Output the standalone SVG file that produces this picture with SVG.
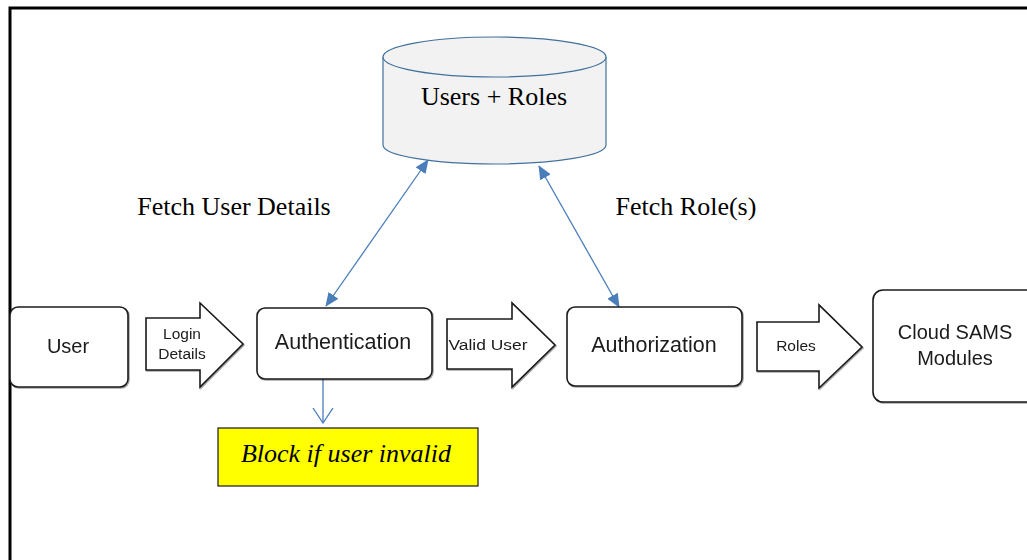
<svg xmlns="http://www.w3.org/2000/svg" width="1027" height="560" viewBox="0 0 1027 560">
<style>
.box{fill:#fff;stroke:#1a1a1a;stroke-width:1.6}
.barrow{fill:#fff;stroke:#1a1a1a;stroke-width:1.6;stroke-linejoin:miter}
.sans{font-family:"Liberation Sans",Arial,sans-serif;fill:#1a1a1a;text-anchor:middle}
.serif{font-family:"Liberation Serif","Times New Roman",serif;fill:#000;font-size:26px}
.conn{stroke:#4a7ebb;stroke-width:1.3;fill:none}
</style>
<defs>
<marker id="tri" viewBox="0 0 14 12" refX="13" refY="6" markerWidth="14" markerHeight="12" markerUnits="userSpaceOnUse" orient="auto-start-reverse">
<path d="M0,0 L14,6 L0,12 Z" fill="#4a7ebb"/>
</marker>
<marker id="vee" viewBox="0 0 16 22" refX="15" refY="11" markerWidth="16" markerHeight="22" markerUnits="userSpaceOnUse" orient="auto">
<path d="M0,1 L15,11 L0,21" fill="none" stroke="#4a7ebb" stroke-width="1.3"/>
</marker>
<filter id="sh" x="-10%" y="-10%" width="120%" height="120%">
<feDropShadow dx="1" dy="1" stdDeviation="0.6" flood-color="#000" flood-opacity="0.35"/>
</filter>
</defs>
<rect width="1027" height="560" fill="#fff"/>
<path d="M10,562 L10,8 L1030,8" fill="none" stroke="#000" stroke-width="3"/>

<g id="connectors">
<line class="conn" x1="326" y1="306" x2="428" y2="160" marker-start="url(#tri)" marker-end="url(#tri)"/>
<line class="conn" x1="619" y1="307" x2="539" y2="166" marker-start="url(#tri)" marker-end="url(#tri)"/>
<line class="conn" x1="323" y1="379" x2="323" y2="423" marker-end="url(#vee)"/>
</g>

<g id="db">
<path d="M383,57 L383,145 A111.5,19 0 0 0 606,145 L606,57" fill="#f2f2f2" stroke="#41719c" stroke-width="1.2"/>
<ellipse cx="494.5" cy="57" rx="111.5" ry="20" fill="#f2f2f2" stroke="#41719c" stroke-width="1.2"/>
<text class="serif" x="494" y="105" text-anchor="middle">Users + Roles</text>
</g>

<g id="label-fetch-user">
<text class="serif" x="234" y="215" text-anchor="middle">Fetch User Details</text>
</g>
<g id="label-fetch-role">
<text class="serif" x="686" y="215" text-anchor="middle">Fetch Role(s)</text>
</g>

<g id="user" filter="url(#sh)">
<rect class="box" x="10" y="307" width="118" height="80" rx="8"/>
<text class="sans" x="68" y="353" font-size="20">User</text>
</g>

<g id="arrow-login" filter="url(#sh)">
<path class="barrow" d="M146,318 L200,318 L200,303 L243,344 L200,387 L200,370 L146,370 Z"/>
<text class="sans" x="182" y="339" font-size="15.5">Login</text>
<text class="sans" x="182" y="359" font-size="15.5">Details</text>
</g>

<g id="authentication" filter="url(#sh)">
<rect class="box" x="257" y="308" width="175" height="71" rx="8"/>
<text class="sans" x="343" y="349" font-size="21.5">Authentication</text>
</g>

<g id="arrow-valid" filter="url(#sh)">
<path class="barrow" d="M447,319 L512,319 L512,303 L555,345 L512,387 L512,369 L447,369 Z"/>
<text class="sans" x="488" y="350" font-size="15.5" textLength="79" lengthAdjust="spacingAndGlyphs">Valid User</text>
</g>

<g id="authorization" filter="url(#sh)">
<rect class="box" x="567" y="307" width="175" height="79" rx="8"/>
<text class="sans" x="654" y="352" font-size="21.5">Authorization</text>
</g>

<g id="arrow-roles" filter="url(#sh)">
<path class="barrow" d="M757,322 L819,322 L819,305 L862,347 L819,388 L819,371 L757,371 Z"/>
<text class="sans" x="796" y="351" font-size="15.5">Roles</text>
</g>

<g id="cloud-sams" filter="url(#sh)">
<rect class="box" x="873" y="290" width="170" height="112" rx="10"/>
<text class="sans" x="955" y="339" font-size="20">Cloud SAMS</text>
<text class="sans" x="955" y="365" font-size="20">Modules</text>
</g>

<g id="block-note">
<rect x="218" y="428" width="260" height="58" fill="#ffff00" stroke="#1a1a1a" stroke-width="1.2"/>
<text class="serif" x="346" y="462" text-anchor="middle" font-style="italic">Block if user invalid</text>
</g>
</svg>
